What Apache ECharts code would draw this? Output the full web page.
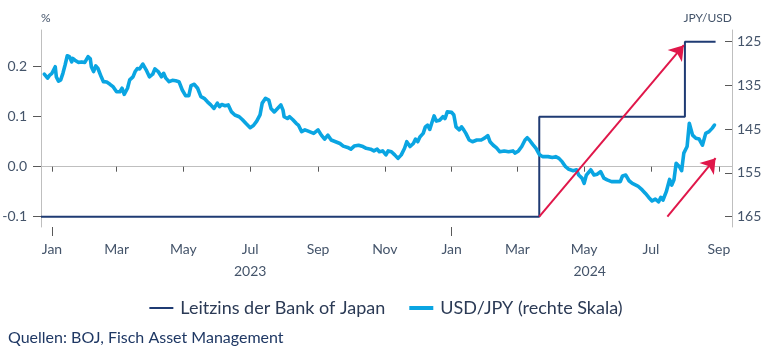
<!DOCTYPE html>
<html><head><meta charset="utf-8">
<script src="https://cdn.jsdelivr.net/npm/echarts@6/dist/echarts.min.js"></script>
<style>html,body{margin:0;padding:0;background:#fff}#c{width:772px;height:357px}</style>
</head><body><div id="c"></div>
<script>
// ---- data ----
const policyDates  = ['2022-12-22','2024-03-21','2024-08-01','2024-08-29'];
const policyValues = [-0.1, 0.1, 0.25, 0.25];

const fxDates = [
'2022-12-25','2022-12-28','2022-12-30','2023-01-01','2023-01-04','2023-01-05','2023-01-07','2023-01-09','2023-01-11','2023-01-13',
'2023-01-15','2023-01-17','2023-01-19','2023-01-20','2023-01-22','2023-01-25','2023-01-28','2023-01-31','2023-02-03','2023-02-05',
'2023-02-06','2023-02-08','2023-02-10','2023-02-12','2023-02-15','2023-02-17','2023-02-20','2023-02-23','2023-02-26','2023-03-01',
'2023-03-04','2023-03-06','2023-03-08','2023-03-11','2023-03-13','2023-03-16','2023-03-18','2023-03-20','2023-03-22','2023-03-25',
'2023-03-28','2023-03-31','2023-04-03','2023-04-05','2023-04-08','2023-04-11','2023-04-13','2023-04-15','2023-04-18','2023-04-21',
'2023-04-24','2023-04-27','2023-04-30','2023-05-03','2023-05-06','2023-05-08','2023-05-11','2023-05-14','2023-05-17','2023-05-20',
'2023-05-23','2023-05-26','2023-05-29','2023-06-01','2023-06-03','2023-06-05','2023-06-08','2023-06-11','2023-06-14','2023-06-17',
'2023-06-21','2023-06-24','2023-06-27','2023-07-01','2023-07-04','2023-07-07','2023-07-10','2023-07-12','2023-07-15','2023-07-18',
'2023-07-20','2023-07-23','2023-07-26','2023-07-29','2023-07-31','2023-08-01','2023-08-04','2023-08-06','2023-08-09','2023-08-12',
'2023-08-14','2023-08-17','2023-08-20','2023-08-23','2023-08-28','2023-09-01','2023-09-04','2023-09-07','2023-09-10','2023-09-13',
'2023-09-17','2023-09-21','2023-09-24','2023-09-28','2023-10-01','2023-10-04','2023-10-08','2023-10-12','2023-10-15','2023-10-19',
'2023-10-22','2023-10-25','2023-10-27','2023-10-30','2023-11-02','2023-11-04','2023-11-07','2023-11-10','2023-11-13','2023-11-16',
'2023-11-19','2023-11-21','2023-11-24','2023-11-27','2023-11-29','2023-12-01','2023-12-03','2023-12-06','2023-12-08','2023-12-10',
'2023-12-12','2023-12-14','2023-12-16','2023-12-18','2023-12-21','2023-12-24','2023-12-26','2023-12-28','2024-01-01','2024-01-03',
'2024-01-05','2024-01-08','2024-01-10','2024-01-12','2024-01-14','2024-01-17','2024-01-20','2024-01-24','2024-01-28','2024-01-31',
'2024-02-03','2024-02-05','2024-02-08','2024-02-11','2024-02-14','2024-02-18','2024-02-22','2024-02-26','2024-02-28','2024-03-02',
'2024-03-05','2024-03-08','2024-03-10','2024-03-12','2024-03-15','2024-03-18','2024-03-21','2024-03-24','2024-03-29','2024-04-02',
'2024-04-05','2024-04-08','2024-04-11','2024-04-14','2024-04-17','2024-04-21','2024-04-24','2024-04-26','2024-04-29','2024-05-01',
'2024-05-03','2024-05-07','2024-05-10','2024-05-13','2024-05-16','2024-05-19','2024-05-22','2024-05-26','2024-05-30','2024-06-03',
'2024-06-05','2024-06-08','2024-06-11','2024-06-14','2024-06-19','2024-06-23','2024-06-26','2024-06-29','2024-07-02','2024-07-05',
'2024-07-08','2024-07-10','2024-07-12','2024-07-15','2024-07-18','2024-07-20','2024-07-22','2024-07-24','2024-07-27','2024-07-29',
'2024-07-31','2024-08-03','2024-08-05','2024-08-08','2024-08-11','2024-08-14','2024-08-17','2024-08-20','2024-08-23','2024-08-26',
'2024-08-28'];
const fxValues = [
132.5,133.4,132.7,132.3,130.8,133.1,134.1,133.8,132.3,130.4,
128.3,128.5,129.7,128.9,129.3,129.8,129.7,129.8,128.5,129.0,
130.8,131.9,130.6,131.2,133.1,134.2,134.3,134.8,135.4,136.5,
136.5,135.7,137.1,135.7,133.8,133.1,131.9,131.2,131.3,130.2,
131.5,133.1,132.5,131.3,131.9,133.1,132.3,133.4,134.2,133.9,
134.0,134.2,136.1,137.4,137.4,135.1,134.8,135.7,137.6,138.0,
138.8,139.5,140.3,139.1,139.9,139.4,139.7,139.5,141.1,141.8,
142.2,142.9,143.7,144.7,144.2,143.2,141.8,139.1,138.0,138.4,
140.3,141.1,140.3,139.5,140.7,142.2,142.6,142.2,142.9,143.7,
144.1,145.6,145.2,145.5,146.0,145.2,146.4,147.3,146.4,147.5,
147.9,148.3,148.9,149.2,149.6,148.9,148.7,149.0,149.4,149.6,
150.0,149.6,150.2,150.0,150.9,150.0,150.2,150.9,151.7,150.9,
149.4,147.9,149.0,148.3,147.3,147.9,146.8,146.0,144.5,144.1,
145.1,143.5,142.0,143.2,143.0,142.2,142.6,141.1,141.2,141.8,
144.5,145.2,144.5,145.2,146.0,147.5,147.9,147.5,147.5,147.1,
146.5,147.9,148.7,149.3,150.2,150.0,150.2,150.0,150.5,150.0,
149.0,147.5,147.0,147.5,148.5,149.4,150.8,151.3,151.3,151.5,
151.3,151.7,152.5,153.6,154.2,154.5,154.3,155.5,156.2,157.4,
155.5,154.3,155.5,155.3,154.7,156.2,156.6,157.0,157.0,157.0,
155.7,155.5,156.8,157.4,158.0,158.9,159.7,160.6,161.4,161.0,
161.6,160.6,161.2,159.3,156.5,157.8,156.6,152.8,153.6,154.5,
150.5,149.0,143.7,146.4,147.1,147.3,148.7,146.0,145.6,144.8,
144.1];

const leftTicks  = [-0.1, 0.0, 0.1, 0.2];
const rightTicks = [125, 135, 145, 155, 165];
const monthTickDates  = ['2023-01-01','2023-03-01','2023-05-01','2023-07-01','2023-09-01','2023-11-01',
                         '2024-01-01','2024-03-01','2024-05-01','2024-07-01','2024-09-01'];
const monthTickLabels = ['Jan','Mar','May','Jul','Sep','Nov','Jan','Mar','May','Jul','Sep'];
const yearTickDates  = ['2023-01-01','2024-01-01'];
const yearLabelDates = ['2023-07-01','2024-05-06'];
const yearLabels     = ['2023','2024'];
const arrowStarts = [['2024-03-21',-0.1],['2024-07-16',-0.1]];
const arrowEnds   = [['2024-07-31',0.243],['2024-08-29',0.017]];

// ---- chart ----
const T = s => { const p = s.split('-').map(Number); return Date.UTC(p[0], p[1]-1, p[2]); };
const FONT = 'Lato, "Open Sans", sans-serif';
const LBL = '#44546a';
const TICK = '#595959';
const NAVY = '#1f3b73', BLUE = '#0aa5e2';
const monthMap = {}; monthTickDates.forEach((d,i)=>monthMap[T(d)] = monthTickLabels[i]);
const yearMap = {}; yearLabelDates.forEach((d,i)=>yearMap[T(d)] = yearLabels[i]);
const xMin = T('2022-12-22'), xMax = T('2024-09-13');

const chart = echarts.init(document.getElementById('c'), null, {renderer:'canvas'});
chart.setOption({
  animation:false,
  textStyle:{fontFamily:FONT},
  title:{text:'Quellen: BOJ, Fisch Asset Management', left:8, top:330, padding:0,
    textStyle:{fontSize:16, fontWeight:'normal', color:'#1f3864', fontFamily:FONT}},
  legend:{
    data:[{name:'Leitzins der Bank of Japan', icon:'path://M0,0H24V2H0Z'},
          {name:'USD/JPY (rechte Skala)', icon:'path://M0,0H24V4H0Z'}],
    left:'center', top:294, itemWidth:24, itemHeight:14, itemGap:24, symbolKeepAspect:true,
    itemStyle:{borderWidth:0}, lineStyle:{width:0},
    textStyle:{fontSize:18, color:'#2b3a55', fontFamily:FONT, padding:[0,0,0,2]}},
  grid:{left:41, right:40, top:30, bottom:130, outerBoundsMode:'none'},
  xAxis:[{
    type:'value', position:'bottom', min:xMin, max:xMax, scale:true,
    axisLine:{show:true, lineStyle:{color:'#bfbfbf', width:1}},
    axisTick:{show:true, customValues:monthTickDates.map(T), length:5, lineStyle:{color:TICK}},
    axisLabel:{customValues:monthTickDates.map(T), formatter:v=>monthMap[v]||'', margin:15,
      fontSize:14, color:LBL, fontFamily:FONT},
    splitLine:{show:false}
  },{
    type:'value', position:'bottom', min:xMin, max:xMax, scale:true,
    axisLine:{show:false},
    axisTick:{show:true, customValues:yearTickDates.map(T), length:9, lineStyle:{color:TICK}},
    axisLabel:{customValues:yearLabelDates.map(T), formatter:v=>yearMap[v]||'', margin:37,
      fontSize:14, color:LBL, fontFamily:FONT},
    splitLine:{show:false}
  }],
  yAxis:[{
    type:'value', position:'left', min:-0.1206, max:0.2734,
    name:'%', nameLocation:'end', nameGap:6,
    nameTextStyle:{align:'left', fontSize:12, color:LBL, fontFamily:FONT},
    axisLine:{show:true, lineStyle:{color:'#bfbfbf'}},
    axisTick:{show:true, customValues:leftTicks, length:8, lineStyle:{color:TICK}},
    axisLabel:{customValues:leftTicks, formatter:v=>v.toFixed(1), margin:14, fontSize:14, color:LBL, fontFamily:FONT},
    splitLine:{show:false}
  },{
    type:'value', position:'right', inverse:true, min:122.42, max:167.35,
    name:'JPY/USD', nameLocation:'start', nameGap:6,
    nameTextStyle:{align:'right', fontSize:12, color:LBL, fontFamily:FONT},
    axisLine:{show:true, lineStyle:{color:'#bfbfbf'}},
    axisTick:{show:true, inside:true, customValues:rightTicks, length:7, lineStyle:{color:TICK}},
    axisLabel:{customValues:rightTicks, margin:5, fontSize:14, color:LBL, fontFamily:FONT},
    splitLine:{show:false}
  }],
  series:[{
    name:'Leitzins der Bank of Japan', type:'line', step:'end', xAxisIndex:0, yAxisIndex:0,
    data:policyDates.map((d,i)=>[T(d), policyValues[i]]),
    symbol:'none', lineStyle:{color:NAVY, width:2}, itemStyle:{color:NAVY}, z:2
  },{
    name:'USD/JPY (rechte Skala)', type:'line', xAxisIndex:0, yAxisIndex:1,
    data:fxDates.map((d,i)=>[T(d), fxValues[i]]),
    symbol:'none', lineStyle:{color:BLUE, width:3.6, cap:'round', join:'round'},
    itemStyle:{color:BLUE}, z:3
  },{
    name:'arrows', type:'line', xAxisIndex:0, yAxisIndex:0, data:[], z:5,
    markLine:{silent:true, symbol:['none','arrow'], symbolSize:14, animation:false,
      lineStyle:{color:'#e0174a', width:2, type:'solid'}, label:{show:false}, emphasis:{disabled:true},
      data:arrowStarts.map((s,i)=>[{coord:[T(s[0]), s[1]]},{coord:[T(arrowEnds[i][0]), arrowEnds[i][1]]}])}
  }]
});
</script></body></html>
